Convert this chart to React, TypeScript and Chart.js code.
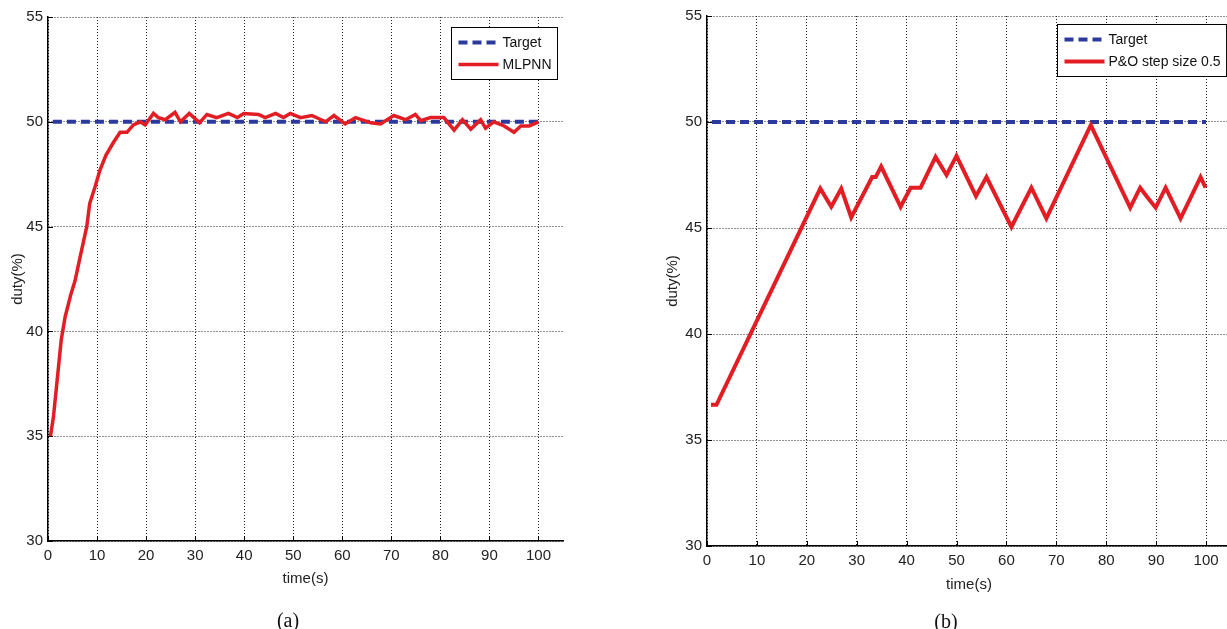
import React, { useEffect, useRef } from 'react';
import { Chart, registerables } from 'chart.js';

Chart.register(...registerables);

// ---------- data ----------
const xTicks = [0, 10, 20, 30, 40, 50, 60, 70, 80, 90, 100];
const yTicks = [30, 35, 40, 45, 50, 55];

const targetTime = [1, 100];
const targetDuty = [50, 50];

const mlpTime = [0.5, 1.1, 2.7, 3.5, 4.7, 5.5, 6.5, 7.9, 8.5, 9.6, 10.6, 11.8, 13.3, 14.7, 16.1, 17.4, 18.8, 19.8, 21.5, 22.5, 23.9, 25.9, 27.0, 28.8, 30.9, 32.4, 34.4, 36.8, 38.6, 39.9, 42.9, 44.3, 46.4, 48.0, 49.4, 51.5, 53.8, 56.6, 58.3, 60.6, 62.7, 65.8, 67.8, 70.5, 72.9, 74.9, 76.0, 78.0, 80.7, 82.8, 84.5, 86.2, 88.2, 89.2, 90.9, 93.0, 95.0, 96.4, 98.1, 100];
const mlpDuty = [35.0, 35.9, 39.6, 40.7, 41.8, 42.4, 43.5, 45.0, 46.1, 46.9, 47.7, 48.4, 49.0, 49.5, 49.5, 49.85, 50.0, 49.85, 50.4, 50.2, 50.1, 50.45, 50.0, 50.4, 49.95, 50.35, 50.2, 50.4, 50.2, 50.4, 50.35, 50.2, 50.4, 50.2, 50.4, 50.2, 50.3, 50.0, 50.3, 49.9, 50.2, 49.95, 49.9, 50.3, 50.1, 50.35, 50.05, 50.2, 50.2, 49.6, 50.1, 49.65, 50.1, 49.7, 50.0, 49.8, 49.5, 49.8, 49.8, 50.0];

const poTime = [0.8, 1.9, 22.7, 24.9, 26.9, 28.9, 33.1, 33.8, 34.9, 38.8, 40.8, 42.8, 45.8, 48.0, 50.0, 53.9, 56.0, 61.0, 65.0, 68.0, 76.9, 84.8, 86.8, 88.2, 89.9, 91.9, 94.9, 98.9, 99.9];
const poDuty = [36.66, 36.66, 46.86, 46.0, 46.86, 45.5, 47.4, 47.4, 47.9, 46.0, 46.9, 46.9, 48.35, 47.5, 48.4, 46.5, 47.4, 45.05, 46.9, 45.45, 49.85, 45.96, 46.9, 46.46, 45.96, 46.9, 45.45, 47.4, 46.9];

// ---------- styles ----------
const FONT = "'Liberation Sans Narrow', 'Liberation Sans', Arial, sans-serif";
const BLUE = 'rgb(44,58,158)';
const RED = 'rgb(226,30,36)';

const pts = (xs: number[], ys: number[]) => xs.map((x, i) => ({ x, y: ys[i] }));

const inwardTicks = {
  id: 'inwardTicks',
  beforeDatasetsDraw(chart: any) {
    const { ctx, chartArea, scales } = chart;
    ctx.save();
    ctx.strokeStyle = '#000';
    ctx.lineWidth = 1;
    xTicks.forEach((v) => {
      const px = Math.round(scales.x.getPixelForValue(v)) + 0.5;
      ctx.beginPath();
      ctx.moveTo(px, chartArea.bottom);
      ctx.lineTo(px, chartArea.bottom - 5);
      ctx.stroke();
    });
    yTicks.forEach((v) => {
      const py = Math.round(scales.y.getPixelForValue(v)) + 0.5;
      ctx.beginPath();
      ctx.moveTo(chartArea.left, py);
      ctx.lineTo(chartArea.left + 5, py);
      ctx.stroke();
    });
    ctx.restore();
  },
};

const boxLegend = {
  id: 'boxLegend',
  afterDraw(chart: any, _args: any, opts: any) {
    const { ctx, chartArea } = chart;
    const ds = chart.data.datasets;
    ctx.save();
    ctx.font = `${opts.fontSize}px ${FONT}`;
    const textW = Math.max(...ds.map((d: any) => ctx.measureText(d.label).width));
    const padL = 7, sample = 40, gap = 4, padR = 6;
    const w = padL + sample + gap + textW + padR;
    const h = 52;
    const x0 = Math.round(chartArea.right - opts.right - w) + 0.5;
    const y0 = Math.round(chartArea.top + opts.top) + 0.5;
    ctx.fillStyle = '#fff';
    ctx.fillRect(x0, y0, w, h);
    ctx.strokeStyle = '#000';
    ctx.lineWidth = 1;
    ctx.strokeRect(x0, y0, w, h);
    ds.forEach((d: any, i: number) => {
      const cy = y0 + 15 + i * 22;
      ctx.beginPath();
      ctx.strokeStyle = d.borderColor;
      ctx.lineWidth = d.borderWidth;
      ctx.setLineDash(d.borderDash || []);
      ctx.moveTo(x0 + padL, cy);
      ctx.lineTo(x0 + padL + sample, cy);
      ctx.stroke();
      ctx.setLineDash([]);
      ctx.fillStyle = '#111';
      ctx.textBaseline = 'middle';
      ctx.textAlign = 'left';
      ctx.fillText(d.label, x0 + padL + sample + gap, cy + 1);
    });
    ctx.restore();
  },
};

type PanelProps = {
  left: number;
  top: number;
  width: number;
  height: number;
  padTop: number;
  padRight: number;
  yAxisWidth: number;
  xAxisHeight: number;
  xTitlePad: number;
  yTitlePad: number;
  label: string;
  time: number[];
  duty: number[];
  legendRight: number;
  legendTop: number;
  legendFont: number;
  lineWidth: number;
};

function Panel(p: PanelProps) {
  const ref = useRef<HTMLCanvasElement | null>(null);
  useEffect(() => {
    if (!ref.current) return;
    const tickFont = { family: FONT, size: 15 };
    const chart = new Chart(ref.current, {
      type: 'line',
      data: {
        datasets: [
          {
            label: 'Target',
            data: pts(targetTime, targetDuty),
            borderColor: BLUE,
            borderWidth: 4,
            borderDash: [9, 5],
            pointRadius: 0,
            fill: false,
            order: 1,
          },
          {
            label: p.label,
            data: pts(p.time, p.duty),
            borderColor: RED,
            borderWidth: p.lineWidth,
            pointRadius: 0,
            fill: false,
            tension: 0,
            order: 0,
          },
        ],
      },
      options: {
        animation: false,
        responsive: false,
        maintainAspectRatio: false,
        layout: { padding: { top: p.padTop, right: p.padRight, left: 0, bottom: 0 } },
        plugins: {
          legend: { display: false },
          tooltip: { enabled: false },
          boxLegend: { right: p.legendRight, top: p.legendTop, fontSize: p.legendFont },
        } as any,
        scales: {
          x: {
            type: 'linear',
            min: 0,
            max: 105,
            afterBuildTicks: (s: any) => {
              s.ticks = xTicks.map((v) => ({ value: v }));
            },
            afterFit: (s: any) => {
              s.height = p.xAxisHeight;
            },
            grid: { color: '#222', lineWidth: 1, drawTicks: false },
            border: { display: true, color: '#000', width: 1.5, dash: [1, 2] },
            ticks: { font: tickFont, color: '#222', padding: 6, maxRotation: 0, autoSkip: false },
            title: {
              display: true,
              text: 'time(s)',
              font: tickFont,
              color: '#222',
              padding: { top: 0, bottom: p.xTitlePad },
            },
          },
          y: {
            type: 'linear',
            min: 30,
            max: 55,
            afterBuildTicks: (s: any) => {
              s.ticks = yTicks.map((v) => ({ value: v }));
            },
            afterFit: (s: any) => {
              s.width = p.yAxisWidth;
            },
            grid: { color: '#222', lineWidth: 1, drawTicks: false },
            border: { display: true, color: '#000', width: 1.5, dash: [1, 2] },
            ticks: { font: tickFont, color: '#222', padding: 5 },
            title: {
              display: true,
              text: 'duty(%)',
              font: tickFont,
              color: '#222',
              padding: { top: p.yTitlePad, bottom: 0 },
            },
          },
        },
      } as any,
      plugins: [inwardTicks, boxLegend],
    });
    return () => chart.destroy();
  }, []);
  return (
    <canvas
      ref={ref}
      width={p.width}
      height={p.height}
      style={{ position: 'absolute', left: p.left, top: p.top, width: p.width, height: p.height }}
    />
  );
}

const captionStyle: React.CSSProperties = {
  position: 'absolute',
  fontFamily: "'Liberation Serif', 'Times New Roman', serif",
  fontSize: 20,
  color: '#111',
  transform: 'translate(-50%, -50%)',
  whiteSpace: 'nowrap',
};

export default function App() {
  return (
    <div
      style={{
        position: 'absolute',
        left: 0,
        top: 0,
        width: 1227,
        height: 629,
        overflow: 'hidden',
        background: '#fff',
      }}
    >
      <Panel
        left={0}
        top={0}
        width={600}
        height={629}
        padTop={17}
        padRight={37}
        yAxisWidth={48}
        xAxisHeight={88}
        xTitlePad={41}
        yTitlePad={9}
        label="MLPNN"
        time={mlpTime}
        duty={mlpDuty}
        legendRight={6}
        legendTop={10}
        legendFont={14}
        lineWidth={3.5}
      />
      <Panel
        left={659}
        top={0}
        width={609}
        height={629}
        padTop={16}
        padRight={37}
        yAxisWidth={48}
        xAxisHeight={83}
        xTitlePad={35}
        yTitlePad={5}
        label="P&O step size 0.5"
        time={poTime}
        duty={poDuty}
        legendRight={5}
        legendTop={8}
        legendFont={14}
        lineWidth={4}
      />
      <div style={{ ...captionStyle, left: 288, top: 620 }}>(a)</div>
      <div style={{ ...captionStyle, left: 946, top: 621 }}>(b)</div>
    </div>
  );
}
